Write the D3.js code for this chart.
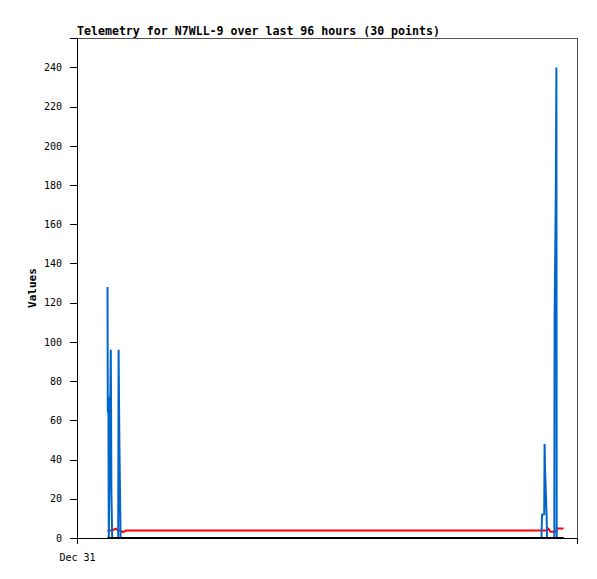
<!DOCTYPE html>
<html><head><meta charset="utf-8">
<script src="https://cdn.jsdelivr.net/npm/d3@7"></script>
<style>body{margin:0;background:#fff}svg{display:block}</style>
</head><body>
<script>
// ---- data ----
const startTime = new Date(2023, 11, 31, 0, 0, 0);   // "Dec 31"
const spanHours = 96;
const titleText = "Telemetry for N7WLL-9 over last 96 hours (30 points)";
const yLabel = "Values";
const yTicks = [0,20,40,60,80,100,120,140,160,180,200,220,240];
const xTickLabels = ["Dec 31"];
// hours after start for each of the 30 packets
const hours = [5.856,5.914,6.029,6.106,6.394,6.490,6.605,6.758,7.411,7.910,7.987,8.141,8.371,8.794,9.523,
               89.184,89.280,89.702,89.779,89.856,90.163,90.240,90.528,90.912,91.642,91.700,91.930,92.045,92.102,93.408];
const blueValues = [128,64,72,0,72,96,24,0,0,0,96,48,0,0,0,
                    0,12,12,48,36,12,0,0,0,0,112,176,240,0,0];
const redValues = [3.8,3.8,3.8,3.8,3.8,3.8,3.8,3.8,4.8,3.8,3.8,3.8,3.8,3.0,3.8,
                   3.8,3.8,3.8,3.8,3.8,3.8,3.8,4.7,3.2,3.2,3.2,3.2,3.2,4.8,4.8];
const blackValues = [0,0,0,0,0,0,0,0,0,0,0,0,0,0,0,0,0,0,0,0,0,0,0,0,0,0,0,0,0,0];
const yMax = 255;

// ---- chart ----
const W = 597, H = 579;
const m = {left:77, top:38, right:20, bottom:41};
const svg = d3.select("body").append("svg").attr("width", W).attr("height", H);
const x = d3.scaleTime()
  .domain([startTime, new Date(startTime.getTime() + spanHours*3600e3)])
  .range([m.left, W - m.right]);
const y = d3.scaleLinear().domain([0, yMax]).range([H - m.bottom, m.top]);
const times = hours.map(h => new Date(startTime.getTime() + h*3600e3));

const mono = "'DejaVu Sans Mono', 'Liberation Mono', monospace";

// frame
svg.append("rect").attr("x", m.left).attr("y", m.top)
  .attr("width", W - m.left - m.right).attr("height", H - m.top - m.bottom)
  .attr("fill", "none").attr("stroke", "#555").attr("stroke-width", 1)
  .attr("shape-rendering", "crispEdges");

// axes
const yAxis = d3.axisLeft(y).tickValues(yTicks).tickSize(7).tickPadding(8);
const gy = svg.append("g").attr("transform", `translate(${m.left},0)`).call(yAxis);
const xAxis = d3.axisBottom(x).tickValues([startTime]).tickSize(6).tickPadding(8)
  .tickFormat((d,i) => xTickLabels[i]);
const gx = svg.append("g").attr("transform", `translate(0,${H - m.bottom})`).call(xAxis);
[gx, gy].forEach(g => {
  g.selectAll("path.domain").attr("stroke", "#000").attr("shape-rendering", "crispEdges");
  g.selectAll("line").attr("stroke", "#000").attr("shape-rendering", "crispEdges");
  g.selectAll("text").attr("font-family", mono).attr("font-size", "10px").attr("fill", "#000");
});
gx.selectAll("text").attr("dy", "0.9em");

// series
const line = vals => d3.line().x((d,i) => x(times[i])).y(d => y(d))(vals);
svg.append("path").attr("d", line(redValues)).attr("fill", "none")
  .attr("stroke", "#ff0000").attr("stroke-width", 2);
svg.append("path").attr("d", line(blueValues)).attr("fill", "none")
  .attr("stroke", "#0066cc").attr("stroke-width", 2).attr("stroke-linejoin", "bevel");
svg.append("path").attr("d", line(blackValues)).attr("fill", "none")
  .attr("stroke", "#000").attr("stroke-width", 2);

// title
svg.append("text").attr("x", m.left).attr("y", 35)
  .attr("font-family", mono).attr("font-size", "11.6px").attr("font-weight", "bold")
  .text(titleText);

// y label
svg.append("text").attr("transform", `translate(36,${(m.top + H - m.bottom)/2}) rotate(-90)`)
  .attr("text-anchor", "middle")
  .attr("font-family", mono).attr("font-size", "11px").attr("font-weight", "bold")
  .text(yLabel);
</script>
</body></html>
